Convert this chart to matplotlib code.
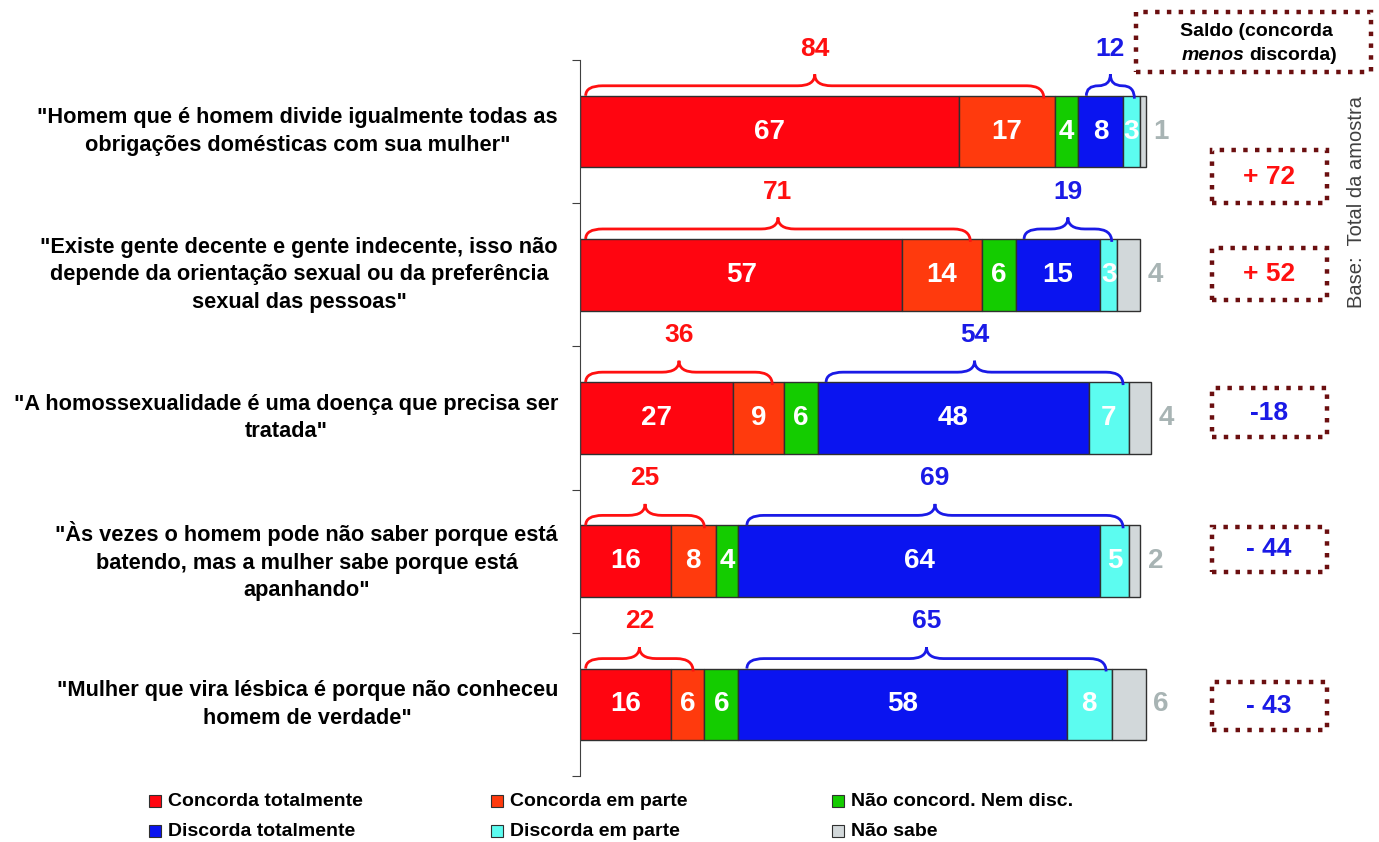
# Import Libraries
import numpy as np
import matplotlib
matplotlib.use('Agg')
import matplotlib.pyplot as plt
from matplotlib.path import Path
from matplotlib.patches import PathPatch, Rectangle

plt.rcParams['font.family'] = ['Liberation Sans', 'DejaVu Sans']

# Data
categories = ['"Homem que é homem divide igualmente todas as\nobrigações domésticas com sua mulher"',
              '"Existe gente decente e gente indecente, isso não\ndepende da orientação sexual ou da preferência\nsexual das pessoas"',
              '"A homossexualidade é uma doença que precisa ser\ntratada"',
              '"Às vezes o homem pode não saber porque está\nbatendo, mas a mulher sabe porque está\napanhando"',
              '"Mulher que vira lésbica é porque não conheceu\nhomem de verdade"']
concorda_tot = [67, 57, 27, 16, 16]
concorda_parte = [17, 14, 9, 8, 6]
nem_nem = [4, 6, 6, 4, 6]
discorda_tot = [8, 15, 48, 64, 58]
discorda_parte = [3, 3, 7, 5, 8]
nao_sabe = [1, 4, 4, 2, 6]
concorda_soma = [84, 71, 36, 25, 22]
discorda_soma = [12, 19, 54, 69, 65]
saldo = ['+ 72', '+ 52', '-18', '- 44', '- 43']
series_names = ['Concorda totalmente', 'Concorda em parte', 'Não concord. Nem disc.',
                'Discorda totalmente', 'Discorda em parte', 'Não sabe']

series = [concorda_tot, concorda_parte, nem_nem, discorda_tot, discorda_parte, nao_sabe]
colors = ['#FF0510', '#FF3A0D', '#14CC00', '#0A14F0', '#5CFCF0', '#D2D8DA']
red = '#FF1010'
blue = '#1A1AE6'
grey_txt = '#A8B4B4'
box_col = '#6B0F10'

W, H = 1379, 842
fig = plt.figure(figsize=(W/100, H/100), dpi=100)
ax = fig.add_axes([580/W, 1-776/H, 792/W, 716/H])

y = np.arange(len(categories))
left = np.zeros(len(categories))
for vals, c in zip(series, colors):
    vals = np.array(vals)
    ax.barh(y, vals, left=left, height=0.5, color=c, edgecolor='#303030', linewidth=1)
    left += vals
ax.set_xlim(0, 140)
ax.set_ylim(4.5, -0.5)

# Value labels
left = np.zeros(len(categories))
for k, vals in enumerate(series):
    for i, v in enumerate(vals):
        if k < 5:
            ax.text(left[i]+v/2, i, str(v), ha='center', va='center', color='white',
                    fontsize=20, fontweight='bold')
        else:
            ax.text(left[i]+v+2.7, i, str(v), ha='center', va='center', color=grey_txt,
                    fontsize=20, fontweight='bold')
    left += np.array(vals)

# Curly brace over a group
def brace(x0, x1, yb, col):
    h1, h2 = 0.07, 0.15
    c = min(3.0, (x1-x0)/4)
    xm = (x0+x1)/2
    verts = [(x0, yb), (x0, yb-h1), (x0+c, yb-h1), (xm-c, yb-h1), (xm, yb-h1), (xm, yb-h2),
             (xm, yb-h1), (xm+c, yb-h1), (x1-c, yb-h1), (x1, yb-h1), (x1, yb+0.02)]
    codes = [Path.MOVETO, Path.CURVE3, Path.CURVE3, Path.LINETO, Path.CURVE3, Path.CURVE3,
             Path.CURVE3, Path.CURVE3, Path.LINETO, Path.CURVE3, Path.CURVE3]
    ax.add_patch(PathPatch(Path(verts, codes), fill=False, edgecolor=col, lw=2, clip_on=False))

for i in range(len(categories)):
    c_end = concorda_tot[i] + concorda_parte[i]
    d_start = c_end + nem_nem[i]
    d_end = d_start + discorda_tot[i] + discorda_parte[i]
    brace(1, c_end-2, i-0.25, red)
    brace(d_start+1.5, d_end-1, i-0.25, blue)
    ax.text((c_end-1)/2, i-0.58, str(concorda_soma[i]), ha='center', va='center',
            color=red, fontsize=19, fontweight='bold')
    ax.text((d_start+d_end+0.5)/2, i-0.58, str(discorda_soma[i]), ha='center', va='center',
            color=blue, fontsize=19, fontweight='bold')
    # category label
    ax.text(-22/5.66, i, categories[i], ha='right', va='center', multialignment='center',
            fontsize=15.7, fontweight='bold', linespacing=1.4)

# Axis style
for s in ['top', 'right', 'bottom']:
    ax.spines[s].set_visible(False)
ax.spines['left'].set_color('#404040')
ax.set_xticks([])
ax.set_yticks(np.arange(-0.5, 5, 1))
ax.set_yticklabels([])
ax.tick_params(axis='y', direction='out', length=6, color='#404040')

# Saldo boxes
box_y = [(150, 203), (248, 300), (388, 437), (527, 572), (682, 730)]
saldo_col = [red, red, blue, blue, blue]
for (y0, y1), s, c in zip(box_y, saldo, saldo_col):
    fig.add_artist(Rectangle((1212/W, 1-y1/H), 115/W, (y1-y0)/H, transform=fig.transFigure,
                             fill=False, edgecolor=box_col, lw=3.2, linestyle=':'))
    fig.text(1269/W, 1-(y0+y1)/2/H, s, ha='center', va='center', color=c,
             fontsize=19, fontweight='bold')

# Header box
fig.add_artist(Rectangle((1136/W, 1-72/H), 235/W, 60/H, transform=fig.transFigure,
                         fill=False, edgecolor=box_col, lw=3.2, linestyle=':'))
fig.text(1256/W, 1-32/H, 'Saldo (concorda', ha='center', va='center', fontsize=14, fontweight='bold')
fig.text(1245/W, 1-55/H, 'menos', ha='right', va='center', fontsize=14, fontweight='bold', style='italic')
fig.text(1249/W, 1-55/H, 'discorda)', ha='left', va='center', fontsize=14, fontweight='bold')

fig.text(1357/W, 1-202/H, 'Base:  Total da amostra', rotation=90, ha='center', va='center',
         fontsize=14.5, color='#404040')

# Legend
leg_x = [155, 497, 838]
leg_y = [801, 831]
for k, (name, c) in enumerate(zip(series_names, colors)):
    lx = leg_x[k % 3]
    ly = leg_y[k // 3]
    fig.add_artist(Rectangle(((lx-6)/W, 1-(ly+6)/H), 12/W, 12/H, transform=fig.transFigure,
                             facecolor=c, edgecolor='#303030', lw=0.8))
    fig.text((lx+13)/W, 1-ly/H, name, ha='left', va='center', fontsize=14, fontweight='bold')

plt.savefig('out.png', dpi=100)
